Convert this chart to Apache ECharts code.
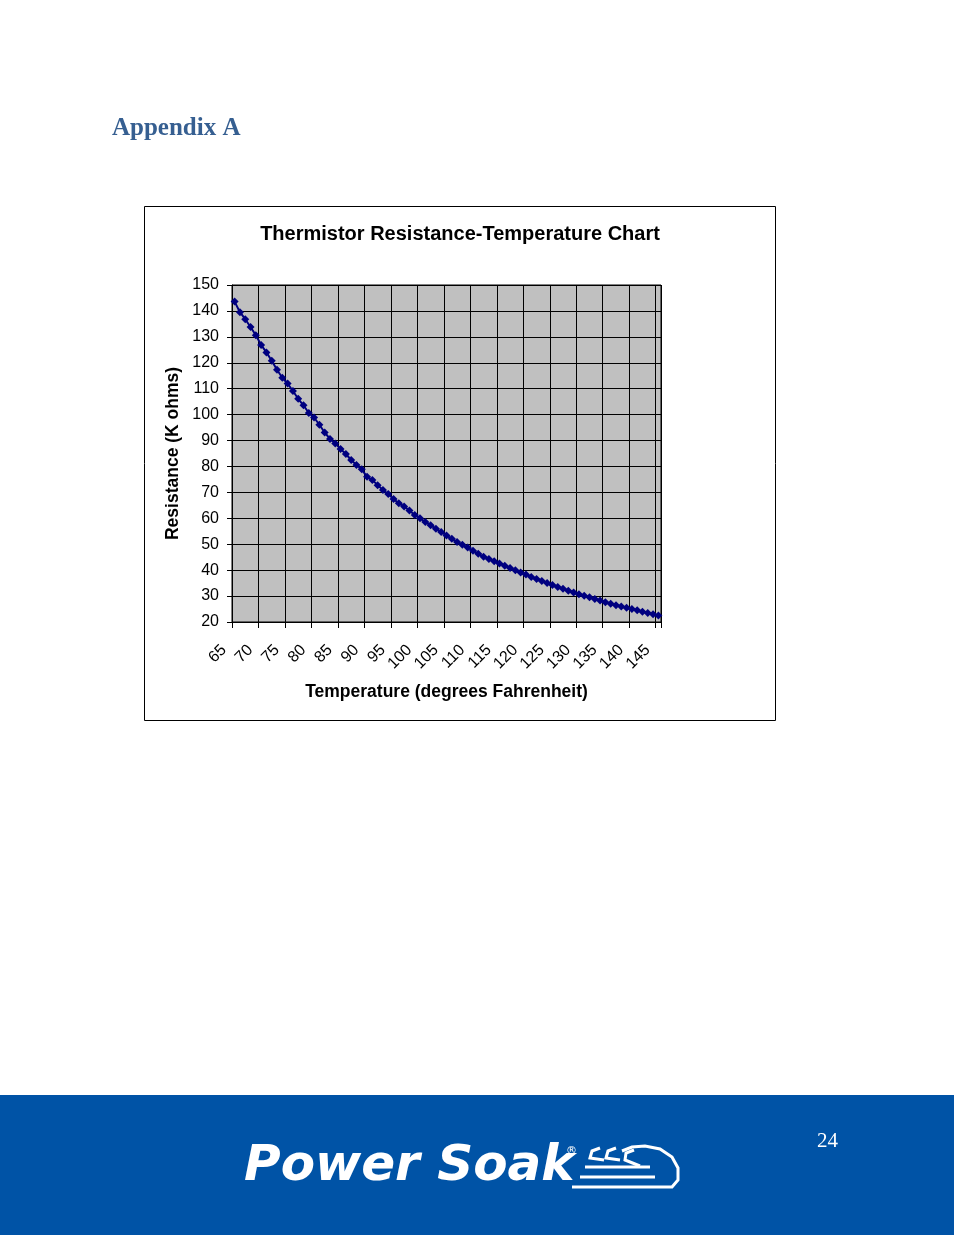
<!DOCTYPE html>
<html><head><meta charset="utf-8">
<script src="https://cdn.jsdelivr.net/npm/echarts@6/dist/echarts.min.js"></script>
<style>html,body{margin:0;padding:0;background:#fff}#c{width:954px;height:1235px}</style>
</head><body><div id="c"></div>
<script>
var temperatures = [];
for (var t = 65; t <= 145; t++) temperatures.push(String(t));
var resistance = [
 143.6,139.5,136.8,133.8,130.6,126.9,124.0,120.8,117.3,114.2,
 112.0,109.1,106.1,103.6,100.6,98.9,96.1,93.1,90.6,88.9,
 86.7,84.8,82.5,80.6,78.9,76.0,74.8,72.8,70.9,69.4,
 67.4,65.8,64.6,63.0,61.3,60.0,58.6,57.3,56.0,54.7,
 53.4,52.1,50.9,49.8,48.7,47.5,46.3,45.2,44.3,43.4,
 42.6,41.7,40.8,40.0,39.1,38.3,37.4,36.6,35.8,35.0,
 34.3,33.5,32.8,32.1,31.4,30.7,30.1,29.5,28.9,28.3,
 27.6,27.0,26.5,26.0,25.5,25.0,24.5,24.0,23.5,23.0,22.5
];
var titleText = 'Thermistor Resistance-Temperature Chart';
var xName = 'Temperature (degrees Fahrenheit)';
var yName = 'Resistance (K ohms)';

var chart = echarts.init(document.getElementById('c'), null, {renderer: 'canvas'});
var font = '"Liberation Sans", Arial, sans-serif';
var W = {fill: null, stroke: '#fff', lineWidth: 3};
chart.setOption({
  animation: false,
  title: {
    text: titleText, left: 455, top: 219, textAlign: 'center',
    textStyle: {fontFamily: font, fontSize: 20, fontWeight: 'bold', color: '#000'}
  },
  grid: {
    left: 232, top: 285, width: 429, height: 337,
    show: true, backgroundColor: '#c0c0c0', borderColor: '#000', borderWidth: 1
  },
  xAxis: {
    type: 'category', data: temperatures, boundaryGap: true,
    name: xName, nameLocation: 'middle', nameGap: 61,
    nameTextStyle: {fontFamily: font, fontSize: 17.5, fontWeight: 'bold', color: '#000'},
    axisLine: {lineStyle: {color: '#000', width: 1}},
    axisTick: {show: true, interval: 4, length: 6, lineStyle: {color: '#000'}},
    splitLine: {show: true, interval: 4, lineStyle: {color: '#000', width: 1}},
    axisLabel: {interval: 4, rotate: 45, margin: 15, padding: [0, 15, 0, 0], fontFamily: font, fontSize: 16, color: '#000'}
  },
  yAxis: {
    type: 'value', min: 20, max: 150, interval: 10,
    name: yName, nameLocation: 'middle', nameGap: 50, nameRotate: 90,
    nameTextStyle: {fontFamily: font, fontSize: 17.5, fontWeight: 'bold', color: '#000'},
    axisLine: {show: true, lineStyle: {color: '#000'}},
    axisTick: {show: true, length: 5, lineStyle: {color: '#000'}},
    splitLine: {show: true, lineStyle: {color: '#000', width: 1}},
    axisLabel: {margin: 13, fontFamily: font, fontSize: 16, color: '#000'}
  },
  series: [{
    type: 'line', data: resistance, symbol: 'diamond', symbolSize: 8, showAllSymbol: true,
    lineStyle: {color: '#000080', width: 2}, itemStyle: {color: '#000080'}
  }],
  graphic: [
    {type: 'rect', shape: {x: 144.5, y: 206.5, width: 631, height: 514}, style: {fill: null, stroke: '#000', lineWidth: 1}, z: -1},
    {type: 'text', x: 112, y: 116, style: {text: 'Appendix A', font: 'bold 25px "Liberation Serif", serif', fill: '#365f91'}},
    {type: 'rect', shape: {x: 0, y: 1095, width: 954, height: 140}, style: {fill: '#0053a6'}},
    {type: 'text', x: 817, y: 1131, style: {text: '24', font: '21px "Liberation Serif", serif', fill: '#fff'}},
    {type: 'text', x: 244, y: 1142, style: {text: 'Power Soak', font: 'italic 900 50px "DejaVu Sans", sans-serif', fill: '#fff'}},
    {type: 'text', x: 566, y: 1146, style: {text: '®', font: '11px "DejaVu Sans", sans-serif', fill: '#fff'}},
    {type: 'polyline', shape: {points: [[572,1187],[672,1187],[678,1180],[678,1168],[672,1157],[660,1149],[645,1146],[632,1147],[622,1151]]}, style: W},
    {type: 'line', shape: {x1: 585, y1: 1167, x2: 650, y2: 1167}, style: W},
    {type: 'line', shape: {x1: 580, y1: 1177, x2: 655, y2: 1177}, style: W},
    {type: 'polyline', shape: {points: [[600,1148],[592,1151],[590,1158],[604,1160]]}, style: W},
    {type: 'polyline', shape: {points: [[616,1148],[608,1151],[606,1158],[620,1160]]}, style: W},
    {type: 'polyline', shape: {points: [[634,1150],[626,1153],[625,1160],[640,1166]]}, style: W}
  ]
});
</script></body></html>
